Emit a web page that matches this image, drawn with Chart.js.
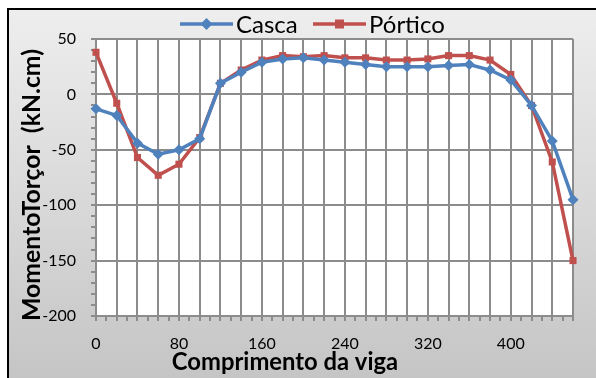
<!DOCTYPE html>
<html>
<head>
<meta charset="utf-8">
<script src="https://cdn.jsdelivr.net/npm/chart.js@4"></script>
<style>
  html, body { margin: 0; padding: 0; background: #fff; }
  #wrap { width: 596px; height: 378px; position: relative; }
</style>
</head>
<body>
<div id="wrap"><canvas id="chart"></canvas></div>
<script>
// Posição ao longo da viga (cm)
const positions = [0, 20, 40, 60, 80, 100, 120, 140, 160, 180, 200, 220, 240, 260, 280, 300, 320, 340, 360, 380, 400, 420, 440, 460];
// Momento torçor (kN.cm)
const casca = [-13, -19, -44, -54, -50, -40, 10, 20, 29, 32, 33, 31, 29, 27, 25, 25, 25, 26, 27, 22, 13, -10, -42, -95];
const portico = [38, -8, -57, -73, -63, -39, 10, 22, 31, 35, 34, 35, 33, 33, 31, 31, 32, 35, 35, 31, 18, -10, -61, -150];

const seriesNames = ['Casca', 'Pórtico'];
const xTitle = 'Comprimento da viga';
const yTitle = 'MomentoTorçor  (kN.cm)';

const BLUE = '#4f81bd';
const RED = '#c0504d';
const GRID = '#8c8c8c';
const FONT = 'Lato, "Open Sans", sans-serif';

const toPoints = (vals) => positions.map((x, i) => ({ x: x, y: vals[i] }));

// ajusta o tamanho da fonte para o texto ocupar a largura desejada
function fitFont(ctx, text, weight, width) {
  ctx.font = weight + ' 20px ' + FONT;
  const size = 20 * width / ctx.measureText(text).width;
  return weight + ' ' + size.toFixed(1) + 'px ' + FONT;
}

// fundo cinza com moldura preta e área de plotagem branca
const frame = {
  id: 'frame',
  beforeDraw(chart) {
    const { ctx, chartArea: a } = chart;
    ctx.save();
    ctx.fillStyle = '#fff';
    ctx.fillRect(0, 0, chart.width, chart.height);
    const g = ctx.createLinearGradient(0, 8, 0, chart.height);
    g.addColorStop(0, '#eeeeee');
    g.addColorStop(1, '#c5c5c5');
    ctx.fillStyle = g;
    ctx.fillRect(8, 8, chart.width, chart.height);
    ctx.strokeStyle = '#000';
    ctx.lineWidth = 2;
    ctx.strokeRect(8, 9, chart.width + 10, chart.height + 10);
    ctx.fillStyle = '#fff';
    ctx.fillRect(a.left, a.top, a.right - a.left, a.bottom - a.top);
    ctx.restore();
  }
};

// legenda no estilo linha + marcador, e títulos dos eixos
const extras = {
  id: 'extras',
  afterDraw(chart) {
    const { ctx } = chart;
    ctx.save();
    const items = [
      { x: 180, color: BLUE, style: 'rectRot', text: seriesNames[0] },
      { x: 313, color: RED, style: 'rect', text: seriesNames[1] }
    ];
    const ly = 24;
    items.forEach(it => {
      ctx.strokeStyle = it.color;
      ctx.lineWidth = 3.5;
      ctx.beginPath();
      ctx.moveTo(it.x, ly);
      ctx.lineTo(it.x + 53, ly);
      ctx.stroke();
      ctx.fillStyle = it.color;
      ctx.beginPath();
      if (it.style === 'rect') {
        ctx.rect(it.x + 22, ly - 4.5, 9, 9);
      } else {
        ctx.moveTo(it.x + 26.5, ly - 6);
        ctx.lineTo(it.x + 32.5, ly);
        ctx.lineTo(it.x + 26.5, ly + 6);
        ctx.lineTo(it.x + 20.5, ly);
        ctx.closePath();
      }
      ctx.fill();
      ctx.fillStyle = '#000';
      ctx.font = '24px ' + FONT;
      ctx.textAlign = 'left';
      ctx.textBaseline = 'middle';
      ctx.fillText(it.text, it.x + 56, ly + 1);
    });

    ctx.fillStyle = '#000';
    ctx.textAlign = 'center';
    ctx.textBaseline = 'middle';
    ctx.font = fitFont(ctx, xTitle, 'bold', 226);
    ctx.fillText(xTitle, 285, 362);

    ctx.font = fitFont(ctx, yTitle, 'bold', 272);
    ctx.translate(32, 185);
    ctx.rotate(-Math.PI / 2);
    ctx.fillText(yTitle, 0, 0);
    ctx.restore();
  }
};

const ctx = document.getElementById('chart').getContext('2d');
new Chart(ctx, {
  type: 'line',
  data: {
    datasets: [
      {
        label: seriesNames[0],
        data: toPoints(casca),
        borderColor: BLUE,
        backgroundColor: BLUE,
        borderWidth: 3.5,
        pointStyle: 'rectRot',
        pointRadius: 5.5,
        pointBorderWidth: 0,
        tension: 0,
        clip: false
      },
      {
        label: seriesNames[1],
        data: toPoints(portico),
        borderColor: RED,
        backgroundColor: RED,
        borderWidth: 3.5,
        pointStyle: 'rect',
        pointRadius: 5,
        pointBorderWidth: 0,
        tension: 0,
        clip: false
      }
    ]
  },
  options: {
    responsive: true,
    maintainAspectRatio: false,
    animation: false,
    layout: { padding: { top: 39, right: 23, left: 0, bottom: 0 } },
    plugins: {
      legend: { display: false },
      tooltip: { enabled: false }
    },
    scales: {
      x: {
        type: 'linear',
        min: 0,
        max: 460,
        afterFit: (s) => { s.height = 62; },
        border: { display: true, color: GRID, width: 2 },
        grid: {
          color: (c) => (c.tick.value % 20 === 0 ? GRID : 'rgba(0,0,0,0)'),
          tickColor: GRID,
          lineWidth: 2,
          tickLength: 5
        },
        ticks: {
          stepSize: 10,
          autoSkip: false,
          maxRotation: 0,
          padding: 13,
          color: '#000',
          font: { family: FONT, size: 16 },
          callback: (v) => (v % 80 === 0 ? String(v) : '')
        }
      },
      y: {
        min: -200,
        max: 50,
        afterFit: (s) => { s.width = 96; },
        border: { display: true, color: GRID, width: 2 },
        grid: {
          color: (c) => (c.tick.value % 50 === 0 ? GRID : 'rgba(0,0,0,0)'),
          tickColor: GRID,
          lineWidth: 2,
          tickLength: 5
        },
        ticks: {
          stepSize: 10,
          autoSkip: false,
          padding: 15,
          color: '#000',
          font: { family: FONT, size: 16 },
          callback: (v) => (v % 50 === 0 ? String(v) : '')
        }
      }
    }
  },
  plugins: [frame, extras]
});
</script>
</body>
</html>
